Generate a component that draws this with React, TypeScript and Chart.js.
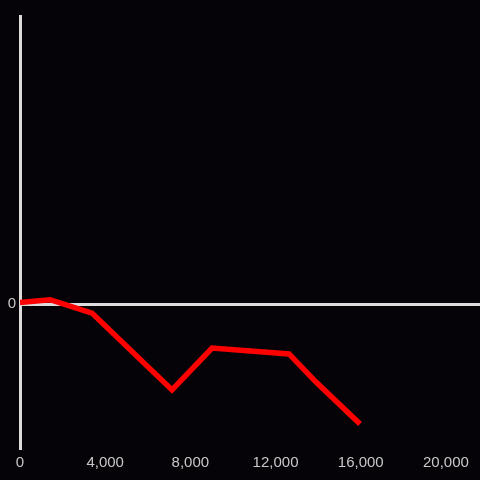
import React, { useEffect, useRef } from "react";
import { Chart, registerables } from "chart.js";

Chart.register(...registerables);

const xValues = [0, 1409, 3381, 7138, 9016, 12632, 13900, 15966];
const yValues = [1, 3, -6.3, -59.7, -30.6, -34.7, -54.2, -83.3];
const xTickValues = [0, 4000, 8000, 12000, 16000, 20000];
const xMax = 21600;
const yMin = -100;
const yMax = 200;

const BG = "#050307";
const AXIS = "#dcdcdc";
const TICK = "#c8c8c8";
const FONT = { family: "'Liberation Sans', Arial, sans-serif", size: 15 };

export default function App() {
  const ref = useRef<HTMLCanvasElement | null>(null);
  useEffect(() => {
    document.body.style.margin = "0";
    document.body.style.background = BG;
    const canvas = ref.current!;
    const bgPlugin = {
      id: "bg",
      beforeDraw(chart: any) {
        const c = chart.ctx;
        c.save();
        c.fillStyle = BG;
        c.fillRect(0, 0, chart.width, chart.height);
        c.restore();
      },
    };
    const chart = new Chart(canvas, {
      type: "line",
      data: {
        datasets: [
          {
            data: xValues.map((x, i) => ({ x, y: yValues[i] })),
            borderColor: "#ff0000",
            borderWidth: 5.5,
            pointRadius: 0,
            tension: 0,
            fill: false,
          },
        ],
      },
      options: {
        responsive: false,
        animation: false,
        layout: { padding: { top: 16, right: 0, left: 0, bottom: 0 } },
        plugins: { legend: { display: false }, tooltip: { enabled: false } },
        scales: {
          x: {
            type: "linear",
            min: 0,
            max: xMax,
            afterBuildTicks(scale: any) {
              scale.ticks = xTickValues.map((v) => ({ value: v }));
            },
            grid: { display: false, drawTicks: false },
            border: { display: false },
            ticks: {
              color: TICK,
              padding: 6,
              maxRotation: 0,
              autoSkip: false,
              font: FONT,
            },
            afterFit(scale: any) {
              scale.height = 32;
            },
          },
          y: {
            type: "linear",
            min: yMin,
            max: yMax,
            afterBuildTicks(scale: any) {
              scale.ticks = [{ value: 0 }];
            },
            grid: {
              drawTicks: false,
              color: AXIS,
              lineWidth: 3,
            },
            border: { display: true, color: AXIS, width: 3 },
            ticks: {
              color: TICK,
              padding: 4,
              font: FONT,
            },
            afterFit(scale: any) {
              scale.width = 20;
            },
          },
        },
      },
      plugins: [bgPlugin],
    } as any);
    return () => chart.destroy();
  }, []);
  return (
    <div style={{ width: 480, height: 480, background: BG }}>
      <canvas ref={ref} width={480} height={480} style={{ display: "block" }} />
    </div>
  );
}
